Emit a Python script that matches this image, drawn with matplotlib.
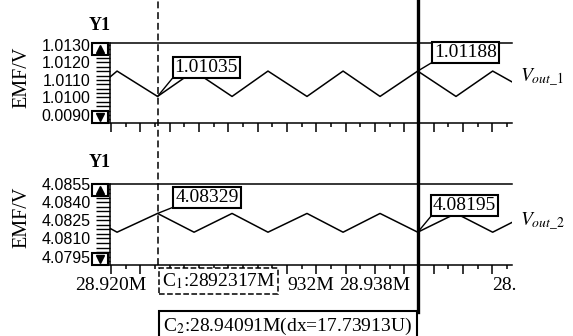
import matplotlib
matplotlib.use("Agg")
import matplotlib.pyplot as plt
from matplotlib.lines import Line2D
from matplotlib.patches import Rectangle
from matplotlib.ticker import AutoMinorLocator, MultipleLocator
from matplotlib.transforms import blended_transform_factory

plt.rcParams['font.family'] = 'Liberation Serif'
plt.rcParams['mathtext.fontset'] = 'stix'

# time (M) and the two outputs
t = [28.91993, 28.92041, 28.92317, 28.92566, 28.92825, 28.93070, 28.93336,
     28.93582, 28.93834, 28.94091, 28.94352, 28.94602, 28.94734]
vout1 = [1.01117, 1.01151, 1.01006, 1.01151, 1.01006, 1.01151, 1.01006,
         1.01151, 1.01006, 1.01151, 1.01006, 1.01151, 1.01089]
vout2 = [4.08184, 4.08152, 4.08307, 4.08152, 4.08307, 4.08152, 4.08307,
         4.08152, 4.08307, 4.08152, 4.08307, 4.08152, 4.08233]

# cursors
c1 = 28.92317
c2 = 28.94091
i1 = 2
i2 = 9
c1_vals = ["1.01035", "4.08329"]
c2_vals = ["1.01188", "4.08195"]
c1_text = r"C$_1$:2892317M"
c2_text = r"C$_2$:28.94091M(dx=17.73913U)"

y1_ticks = [1.0130, 1.0120, 1.0110, 1.0100, 1.0090]
y1_labels = ["1.0130", "1.0120", "1.0110", "1.0100", "0.0090"]
y2_ticks = [4.0855, 4.0840, 4.0825, 4.0810, 4.0795]
y2_labels = ["4.0855", "4.0840", "4.0825", "4.0810", "4.0795"]

# labels partly hidden behind the C1 box on the scope are shown as seen
x_ticks = [28.920, 28.922, 28.924, 28.926, 28.928, 28.930, 28.932,
           28.934, 28.936, 28.938, 28.940, 28.942, 28.944, 28.946]
x_labels = ["28.920M", "", "", "", "", "", "932M",
            "", "", "28.938M", "", "", "", "28."]

fig = plt.figure(figsize=(5.73, 3.36), dpi=100)
ax1 = fig.add_axes([0.192, 0.634, 0.7016, 0.238])
ax2 = fig.add_axes([0.192, 0.2113, 0.7016, 0.241])

panels = [
    (ax1, vout1, (1.008543, 1.013114), y1_ticks, y1_labels, r"$V_{out\_1}$", 0.5625, 0.575, 1.225),
    (ax2, vout2, (4.07881, 4.08544), y2_ticks, y2_labels, r"$V_{out\_2}$", 0.53, 0.593, 1.26),
]

for k, (ax, y, ylim, yt, yl, name, name_y, lab_y, y1_y) in enumerate(panels):
    ax.plot(t, y, color='black', lw=1.1)
    ax.set_xlim(t[0], t[-1])
    ax.set_ylim(*ylim)
    ax.spines['right'].set_visible(False)
    for s in ax.spines.values():
        s.set_linewidth(1.1)

    ax.set_xticks(x_ticks)
    ax.set_xticklabels(x_labels)
    ax.xaxis.set_minor_locator(MultipleLocator(0.001))
    ax.tick_params(axis='x', which='major', length=6.5, width=1.1, labelsize=14, pad=2)
    ax.tick_params(axis='x', which='minor', length=3, width=1.1)
    if k == 0:
        ax.tick_params(axis='x', labelbottom=False)

    ax.set_yticks(yt)
    ax.set_yticklabels(yl, fontfamily='Liberation Sans', fontsize=11.5)
    ax.yaxis.set_minor_locator(AutoMinorLocator(4))
    ax.tick_params(axis='y', which='both', length=10, width=1.0, pad=4)

    ax.set_ylabel("EMF/V", fontsize=14.5)
    ax.yaxis.set_label_coords(-0.196, lab_y)
    ax.text(-0.027, y1_y, "Y1", transform=ax.transAxes, fontsize=13,
            fontweight='bold', ha='center', va='center')
    ax.text(1.02, name_y, name, transform=ax.transAxes, fontsize=14, va='center')

    # scroll buttons on the y axis
    h = 12 / (80 if k == 0 else 81)
    for yb, mk in [(1 - h, '^'), (0, 'v')]:
        ax.add_patch(Rectangle((-0.0448, yb), 0.0398, h, transform=ax.transAxes,
                               fc='white', ec='black', lw=1.5, clip_on=False, zorder=5))
        ax.plot(-0.0249, yb + h / 2, marker=mk, ms=6, color='black',
                transform=ax.transAxes, clip_on=False, zorder=6)

    box = dict(boxstyle='square,pad=0.1', fc='white', ec='black', lw=1.5)
    arrow = dict(arrowstyle='-', color='black', lw=1, relpos=(0, 0), shrinkA=0, shrinkB=0)
    off1 = (35, 21) if k == 0 else (35.6, 11.2)
    off2 = (34.6, 13.3) if k == 0 else (33.8, 19.4)
    ax.annotate(c1_vals[k], xy=(t[i1], y[i1]), xytext=off1, textcoords='offset points',
                ha='center', va='center', fontsize=14, bbox=box, arrowprops=arrow)
    ax.annotate(c2_vals[k], xy=(t[i2], y[i2]), xytext=off2, textcoords='offset points',
                ha='center', va='center', fontsize=14, bbox=box, arrowprops=arrow)

# the "932M" remnant starts right after the C1 box
ax2.get_xticklabels()[6].set_horizontalalignment('left')
ax2.get_xticklabels()[13].set_horizontalalignment('left')

# cursor lines across both panels
tr = blended_transform_factory(ax1.transData, fig.transFigure)
fig.add_artist(Line2D([c1, c1], [1 - 265 / 336, 1], transform=tr, color='black',
                      lw=1.1, ls=(0, (4.5, 2.5))))
fig.add_artist(Line2D([c2, c2], [1 - 312 / 336, 1], transform=tr, color='black', lw=2.4))

ax2.annotate(c1_text, xy=(c1, 1 - 281 / 336), xycoords=tr, xytext=(3, 0),
             textcoords='offset points', ha='left', va='center', fontsize=14,
             bbox=dict(boxstyle='square,pad=0.15', fc='white', ec='black', lw=1.1, ls='--'),
             annotation_clip=False, zorder=10)
ax2.annotate(c2_text, xy=(c2, 1 - 326 / 336), xycoords=tr, xytext=(-4, 0),
             textcoords='offset points', ha='right', va='center', fontsize=14,
             bbox=dict(boxstyle='square,pad=0.23', fc='white', ec='black', lw=1.5),
             annotation_clip=False, zorder=10)

fig.savefig("out.png", dpi=100)
